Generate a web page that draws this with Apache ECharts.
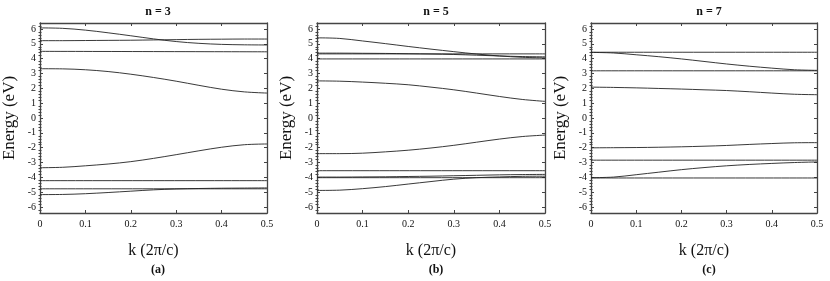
<!DOCTYPE html>
<html>
<head>
<meta charset="utf-8">
<script src="https://cdn.jsdelivr.net/npm/echarts@6/dist/echarts.min.js"></script>
<style>html,body{margin:0;padding:0;background:#fff}#c{width:830px;height:281px}</style>
</head>
<body>
<div id="c"></div>
<script>
// ---- data ----
const kGrid = [0, 0.05, 0.1, 0.15, 0.2, 0.25, 0.3, 0.35, 0.4, 0.45, 0.5];
const kEnds = [0, 0.5];
const xTicks = [0, 0.1, 0.2, 0.3, 0.4, 0.5];
const yTicks = [-6, -5, -4, -3, -2, -1, 0, 1, 2, 3, 4, 5, 6];
const panelTitles = ['n = 3', 'n = 5', 'n = 7'];
const panelLetters = ['(a)', '(b)', '(c)'];

// n = 3 bands (energy in eV)
const n3_b1 = [6.07, 6.04, 5.92, 5.74, 5.54, 5.33, 5.15, 5.03, 4.96, 4.93, 4.92];
const n3_b2 = [5.21, 5.21, 5.22, 5.23, 5.24, 5.26, 5.28, 5.30, 5.31, 5.32, 5.32];
const n3_b3 = [4.49, 4.46];
const n3_b4 = [3.32, 3.31, 3.25, 3.13, 2.95, 2.73, 2.48, 2.20, 1.94, 1.76, 1.68];
const n3_b5 = [-3.35, -3.32, -3.22, -3.10, -2.94, -2.72, -2.47, -2.21, -1.97, -1.80, -1.75];
const n3_b6 = [-4.22, -4.22];
const n3_b7 = [-4.77, -4.77];
const n3_b8 = [-5.16, -5.15, -5.10, -5.02, -4.93, -4.84, -4.78, -4.75, -4.73, -4.72, -4.71];

// n = 5 bands
const n5_b1 = [5.40, 5.36, 5.19, 5.01, 4.82, 4.64, 4.47, 4.31, 4.18, 4.09, 4.05];
const n5_b2 = [4.37, 4.37, 4.36, 4.35, 4.33, 4.31, 4.28, 4.23, 4.18, 4.14, 4.12];
const n5_b3 = [4.32, 4.32];
const n5_b4 = [3.98, 3.98];
const n5_b5 = [2.50, 2.48, 2.42, 2.34, 2.24, 2.08, 1.90, 1.68, 1.45, 1.25, 1.12];
const n5_b6 = [-2.40, -2.40, -2.37, -2.28, -2.17, -2.02, -1.84, -1.63, -1.42, -1.25, -1.15];
const n5_b7 = [-3.55, -3.55];
const n5_b8 = [-4.02, -4.02];
const n5_b9 = [-3.98, -3.98, -3.97, -3.96, -3.94, -3.92, -3.89, -3.86, -3.83, -3.81, -3.80];
const n5_b10 = [-4.88, -4.86, -4.76, -4.62, -4.45, -4.28, -4.12, -4.02, -3.97, -3.93, -3.92];

// n = 7 bands
const n7_b1 = [4.43, 4.43];
const n7_b2 = [4.42, 4.38, 4.26, 4.13, 3.98, 3.81, 3.64, 3.49, 3.36, 3.25, 3.21];
const n7_b3 = [3.18, 3.18];
const n7_b4 = [2.08, 2.06, 2.03, 1.99, 1.95, 1.90, 1.85, 1.77, 1.68, 1.60, 1.57];
const n7_b5 = [-2.01, -2.00, -1.99, -1.97, -1.94, -1.90, -1.85, -1.78, -1.72, -1.67, -1.66];
const n7_b6 = [-2.84, -2.84];
const n7_b7 = [-4.02, -3.98, -3.82, -3.65, -3.48, -3.34, -3.22, -3.13, -3.06, -3.00, -2.96];
const n7_b8 = [-4.04, -4.04];

const panels = [
  [n3_b1, n3_b2, n3_b3, n3_b4, n3_b5, n3_b6, n3_b7, n3_b8],
  [n5_b1, n5_b2, n5_b3, n5_b4, n5_b5, n5_b6, n5_b7, n5_b8, n5_b9, n5_b10],
  [n7_b1, n7_b2, n7_b3, n7_b4, n7_b5, n7_b6, n7_b7, n7_b8]
];

// ---- layout ----
const gridBoxes = [
  {left: 39, width: 228},
  {left: 317, width: 228},
  {left: 591, width: 226}
];
const TOP = 23, HEIGHT = 190;
const FONT = '"Liberation Serif", "DejaVu Serif", serif';
const AX = '#444';
const yMin = -6.4, yMax = 6.4;
const minorTicks = [];
for (let v = -6.2; v <= 6.21; v += 0.2) {
  const r = Math.round(v * 10) / 10;
  if (Math.abs(r - Math.round(r)) > 1e-6) minorTicks.push(r);
}

const grids = [], xAxes = [], yAxes = [], series = [], titles = [];
gridBoxes.forEach((g, i) => {
  grids.push({left: g.left, width: g.width, top: TOP, height: HEIGHT, containLabel: false});
  const xBase = {
    type: 'value', gridIndex: i, min: 0, max: 0.5, interval: 0.1,
    axisLine: {show: true, onZero: false, lineStyle: {color: AX, width: 1.3}},
    axisTick: {show: true, inside: true, length: 3, lineStyle: {color: AX}},
    splitLine: {show: false}
  };
  xAxes.push(Object.assign({}, xBase, {
    position: 'bottom',
    name: 'k (2\u03c0/c)', nameLocation: 'middle', nameGap: 30,
    nameTextStyle: {fontFamily: FONT, fontSize: 16, color: '#111'},
    axisLabel: {fontFamily: FONT, fontSize: 10, color: '#111', margin: 6,
      formatter: v => (v === 0 ? '0' : v.toFixed(1))}
  }));
  xAxes.push(Object.assign({}, xBase, {position: 'top', axisLabel: {show: false}}));
  const yBase = {
    type: 'value', gridIndex: i, min: yMin, max: yMax,
    splitLine: {show: false}
  };
  // left major
  yAxes.push(Object.assign({}, yBase, {
    position: 'left',
    name: 'Energy (eV)', nameLocation: 'middle', nameGap: 22, nameRotate: 90,
    nameTextStyle: {fontFamily: FONT, fontSize: 17, color: '#111'},
    axisLine: {show: true, onZero: false, lineStyle: {color: AX, width: 1.3}},
    axisTick: {show: true, inside: true, length: 3, customValues: yTicks, lineStyle: {color: AX}},
    axisLabel: {fontFamily: FONT, fontSize: 10, color: '#111', margin: 4, customValues: yTicks}
  }));
  // left minor
  yAxes.push(Object.assign({}, yBase, {
    position: 'left',
    axisLine: {show: false},
    axisTick: {show: true, inside: true, length: 1.5, customValues: minorTicks, lineStyle: {color: AX}},
    axisLabel: {show: false}
  }));
  // right major
  yAxes.push(Object.assign({}, yBase, {
    position: 'right',
    axisLine: {show: true, onZero: false, lineStyle: {color: AX, width: 1.3}},
    axisTick: {show: true, inside: true, length: 3, customValues: yTicks, lineStyle: {color: AX}},
    axisLabel: {show: false}
  }));
  // right minor
  yAxes.push(Object.assign({}, yBase, {
    position: 'right',
    axisLine: {show: false},
    axisTick: {show: true, inside: true, length: 1.5, customValues: minorTicks, lineStyle: {color: AX}},
    axisLabel: {show: false}
  }));

  panels[i].forEach(band => {
    const ks = band.length === 2 ? kEnds : kGrid;
    series.push({
      type: 'line', xAxisIndex: i * 2, yAxisIndex: i * 4,
      data: band.map((e, j) => [ks[j], e]),
      showSymbol: false, smooth: 0.35, silent: true,
      lineStyle: {color: '#222', width: 0.9}
    });
  });

  const cx = g.left + g.width / 2;
  titles.push({text: panelTitles[i], left: cx, top: 1, textAlign: 'center',
    textStyle: {fontFamily: FONT, fontSize: 12, fontWeight: 'bold', color: '#111'}});
  titles.push({text: panelLetters[i], left: cx, top: 259, textAlign: 'center',
    textStyle: {fontFamily: FONT, fontSize: 12, fontWeight: 'bold', color: '#111'}});
});

const chart = echarts.init(document.getElementById('c'), null, {renderer: 'canvas'});
chart.setOption({
  animation: false,
  backgroundColor: '#fff',
  title: titles,
  grid: grids,
  xAxis: xAxes,
  yAxis: yAxes,
  series: series
});
</script>
</body>
</html>
